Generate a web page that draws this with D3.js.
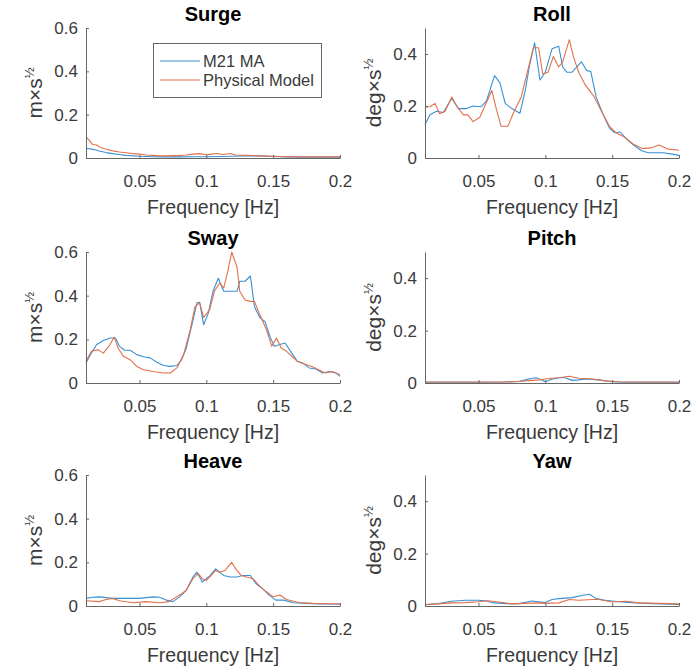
<!DOCTYPE html>
<html><head><meta charset="utf-8">
<script src="https://cdn.jsdelivr.net/npm/d3@7"></script>
<style>body{margin:0;background:#fff}svg{display:block}</style>
</head><body><svg id="c" width="697" height="667"></svg>
<script>
// ---------- data ----------
const xTicks = [0.05, 0.1, 0.15, 0.2];
const yTicksLin = [0, 0.2, 0.4, 0.6];
const yTicksAng = [0, 0.2, 0.4];
const titles = ["Surge", "Roll", "Sway", "Pitch", "Heave", "Yaw"];
const seriesNames = ["M21 MA", "Physical Model"];
const xLabel = "Frequency [Hz]";
const unitLin = "m×s";
const unitAng = "deg×s";

const surgeMA = [[0.01,0.045],[0.015,0.04],[0.02,0.032],[0.025,0.025],[0.03,0.02],[0.035,0.016],[0.04,0.012],[0.05,0.008],[0.06,0.006],[0.07,0.005],[0.08,0.005],[0.09,0.006],[0.1,0.006],[0.11,0.007],[0.12,0.008],[0.13,0.01],[0.14,0.01],[0.15,0.007],[0.16,0.005],[0.17,0.004],[0.18,0.004],[0.19,0.004],[0.2,0.004]];
const surgePhys = [[0.01,0.097],[0.012,0.085],[0.015,0.062],[0.018,0.06],[0.021,0.048],[0.025,0.04],[0.03,0.033],[0.035,0.028],[0.04,0.024],[0.045,0.02],[0.05,0.018],[0.055,0.014],[0.06,0.012],[0.065,0.01],[0.07,0.01],[0.075,0.011],[0.08,0.012],[0.085,0.014],[0.09,0.018],[0.095,0.02],[0.1,0.015],[0.104,0.018],[0.108,0.021],[0.112,0.016],[0.118,0.021],[0.122,0.014],[0.13,0.012],[0.14,0.01],[0.15,0.008],[0.16,0.006],[0.17,0.005],[0.18,0.005],[0.19,0.005],[0.2,0.005]];

const rollMA = [[0.01,0.128],[0.0137,0.166],[0.0187,0.18],[0.0237,0.175],[0.03,0.23],[0.035,0.19],[0.041,0.19],[0.046,0.2],[0.052,0.197],[0.056,0.22],[0.062,0.317],[0.066,0.29],[0.07,0.21],[0.075,0.19],[0.081,0.172],[0.085,0.26],[0.088,0.35],[0.092,0.443],[0.096,0.30],[0.1,0.33],[0.105,0.42],[0.11,0.43],[0.113,0.35],[0.116,0.33],[0.12,0.33],[0.127,0.37],[0.131,0.336],[0.134,0.333],[0.138,0.235],[0.143,0.17],[0.148,0.115],[0.152,0.097],[0.156,0.1],[0.161,0.072],[0.166,0.05],[0.172,0.028],[0.177,0.02],[0.18,0.02],[0.188,0.02],[0.195,0.015],[0.2,0.01]];
const rollPhys = [[0.01,0.195],[0.0137,0.197],[0.0175,0.21],[0.021,0.17],[0.025,0.18],[0.03,0.235],[0.0337,0.2],[0.0387,0.166],[0.042,0.166],[0.046,0.14],[0.051,0.157],[0.06,0.26],[0.0635,0.185],[0.067,0.122],[0.072,0.122],[0.076,0.172],[0.082,0.235],[0.087,0.34],[0.091,0.424],[0.095,0.424],[0.098,0.323],[0.102,0.33],[0.106,0.39],[0.11,0.35],[0.113,0.37],[0.118,0.455],[0.121,0.39],[0.125,0.33],[0.13,0.28],[0.136,0.24],[0.143,0.17],[0.148,0.122],[0.153,0.097],[0.158,0.084],[0.166,0.053],[0.173,0.036],[0.18,0.04],[0.185,0.05],[0.192,0.034],[0.2,0.03]];

const swayMA = [[0.01,0.092],[0.014,0.137],[0.018,0.176],[0.023,0.195],[0.028,0.206],[0.032,0.206],[0.035,0.168],[0.039,0.15],[0.043,0.15],[0.048,0.13],[0.053,0.12],[0.058,0.115],[0.063,0.095],[0.068,0.08],[0.073,0.076],[0.078,0.08],[0.0816,0.107],[0.085,0.16],[0.089,0.26],[0.093,0.367],[0.095,0.37],[0.098,0.267],[0.1015,0.32],[0.105,0.42],[0.109,0.48],[0.113,0.42],[0.118,0.42],[0.123,0.42],[0.125,0.466],[0.129,0.466],[0.133,0.49],[0.136,0.35],[0.14,0.3],[0.144,0.28],[0.148,0.206],[0.151,0.168],[0.155,0.176],[0.159,0.183],[0.163,0.145],[0.168,0.1],[0.172,0.092],[0.177,0.069],[0.182,0.064],[0.187,0.046],[0.192,0.053],[0.197,0.046],[0.2,0.03]];
const swayPhys = [[0.01,0.1],[0.014,0.145],[0.019,0.153],[0.023,0.137],[0.028,0.176],[0.031,0.21],[0.034,0.16],[0.038,0.122],[0.043,0.107],[0.048,0.076],[0.053,0.061],[0.06,0.053],[0.068,0.046],[0.073,0.046],[0.078,0.069],[0.083,0.13],[0.088,0.244],[0.0915,0.35],[0.095,0.367],[0.098,0.3],[0.1025,0.336],[0.106,0.42],[0.11,0.458],[0.113,0.435],[0.116,0.51],[0.119,0.6],[0.123,0.53],[0.125,0.42],[0.129,0.38],[0.133,0.374],[0.136,0.374],[0.14,0.313],[0.145,0.244],[0.149,0.168],[0.1525,0.206],[0.156,0.16],[0.16,0.145],[0.164,0.122],[0.168,0.1],[0.172,0.089],[0.179,0.076],[0.184,0.061],[0.189,0.046],[0.194,0.053],[0.197,0.046],[0.2,0.038]];

const pitchMA = [[0.01,0.003],[0.03,0.003],[0.05,0.003],[0.07,0.004],[0.08,0.006],[0.085,0.012],[0.09,0.018],[0.093,0.02],[0.097,0.012],[0.1,0.005],[0.105,0.014],[0.11,0.02],[0.115,0.02],[0.12,0.01],[0.125,0.012],[0.13,0.015],[0.14,0.012],[0.15,0.005],[0.16,0.003],[0.18,0.003],[0.2,0.003]];
const pitchPhys = [[0.01,0.004],[0.03,0.004],[0.05,0.004],[0.07,0.004],[0.08,0.006],[0.09,0.01],[0.095,0.012],[0.1,0.015],[0.105,0.018],[0.11,0.02],[0.118,0.026],[0.125,0.018],[0.135,0.015],[0.145,0.008],[0.155,0.005],[0.17,0.004],[0.2,0.004]];

const heaveMA = [[0.01,0.035],[0.015,0.04],[0.02,0.042],[0.03,0.035],[0.04,0.035],[0.05,0.035],[0.06,0.042],[0.065,0.04],[0.07,0.027],[0.075,0.02],[0.08,0.042],[0.085,0.072],[0.09,0.133],[0.093,0.155],[0.097,0.11],[0.1,0.125],[0.103,0.14],[0.107,0.17],[0.11,0.155],[0.113,0.14],[0.118,0.133],[0.123,0.133],[0.127,0.14],[0.133,0.14],[0.137,0.103],[0.142,0.08],[0.147,0.05],[0.152,0.027],[0.158,0.027],[0.165,0.015],[0.175,0.012],[0.185,0.009],[0.2,0.009]];
const heavePhys = [[0.01,0.024],[0.02,0.02],[0.025,0.03],[0.03,0.035],[0.035,0.024],[0.045,0.015],[0.055,0.02],[0.065,0.015],[0.072,0.02],[0.08,0.05],[0.085,0.072],[0.09,0.125],[0.094,0.148],[0.097,0.125],[0.1,0.118],[0.103,0.136],[0.107,0.163],[0.11,0.155],[0.114,0.163],[0.119,0.2],[0.122,0.17],[0.126,0.14],[0.13,0.133],[0.135,0.125],[0.14,0.09],[0.145,0.065],[0.15,0.042],[0.155,0.05],[0.16,0.03],[0.17,0.015],[0.18,0.012],[0.2,0.009]];

const yawMA = [[0.01,0.006],[0.02,0.009],[0.03,0.018],[0.04,0.022],[0.05,0.022],[0.055,0.02],[0.06,0.013],[0.07,0.009],[0.08,0.009],[0.09,0.019],[0.1,0.013],[0.105,0.025],[0.11,0.028],[0.12,0.032],[0.128,0.041],[0.133,0.045],[0.138,0.028],[0.145,0.022],[0.155,0.016],[0.165,0.013],[0.18,0.009],[0.2,0.006]];
const yawPhys = [[0.01,0.005],[0.02,0.008],[0.03,0.012],[0.04,0.013],[0.05,0.016],[0.057,0.02],[0.065,0.015],[0.075,0.008],[0.085,0.01],[0.095,0.012],[0.1,0.01],[0.11,0.012],[0.118,0.025],[0.125,0.022],[0.135,0.025],[0.14,0.025],[0.15,0.015],[0.16,0.018],[0.17,0.012],[0.2,0.008]];

// ---------- layout ----------
const colX = [[86, 340], [425, 679]];
const rowY = [[28, 158], [252, 383], [475, 606]];
const colors = ["#3a90d4", "#e2704a"];

const panels = [
  {title: titles[0], d: [surgeMA, surgePhys], yMax: 0.6, ticks: yTicksLin, unit: unitLin, c: 0, r: 0, legend: true},
  {title: titles[1], d: [rollMA, rollPhys], yMax: 0.5, ticks: yTicksAng, unit: unitAng, c: 1, r: 0},
  {title: titles[2], d: [swayMA, swayPhys], yMax: 0.6, ticks: yTicksLin, unit: unitLin, c: 0, r: 1},
  {title: titles[3], d: [pitchMA, pitchPhys], yMax: 0.5, ticks: yTicksAng, unit: unitAng, c: 1, r: 1},
  {title: titles[4], d: [heaveMA, heavePhys], yMax: 0.6, ticks: yTicksLin, unit: unitLin, c: 0, r: 2},
  {title: titles[5], d: [yawMA, yawPhys], yMax: 0.5, ticks: yTicksAng, unit: unitAng, c: 1, r: 2}
];

const svg = d3.select("#c");
const FONT = "'Liberation Sans', Arial, Helvetica, sans-serif";
const axisCol = "#666";
const textCol = "#3a3a3a";

panels.forEach(p => {
  const [x0, x1] = colX[p.c];
  const [yT, yB] = rowY[p.r];
  const x = d3.scaleLinear().domain([0.01, 0.2]).range([x0, x1]);
  const y = d3.scaleLinear().domain([0, p.yMax]).range([yB, yT]);
  const g = svg.append("g");

  // lines
  const line = d3.line().x(d => x(d[0])).y(d => y(d[1]));
  p.d.forEach((s, i) => {
    g.append("path").attr("d", line(s)).attr("fill", "none")
      .attr("stroke", colors[i]).attr("stroke-width", 1.1).attr("stroke-linejoin", "round");
  });

  // x axis
  const xa = g.append("g").attr("transform", `translate(0,${yB})`)
    .call(d3.axisBottom(x).tickValues(xTicks).tickFormat(d3.format("~g")).tickSizeInner(-3).tickSizeOuter(0).tickPadding(17));
  // y axis
  const ya = g.append("g").attr("transform", `translate(${x0},0)`)
    .call(d3.axisLeft(y).tickValues(p.ticks).tickFormat(d3.format("~g")).tickSizeInner(-3).tickSizeOuter(0).tickPadding(8));
  [xa, ya].forEach(a => {
    a.select(".domain").attr("stroke", axisCol).attr("stroke-width", 1);
    a.selectAll(".tick line").attr("stroke", axisCol);
    a.selectAll("text").attr("fill", textCol).style("font-family", FONT).style("font-size", "17px");
  });
  xa.selectAll("text").attr("dy", "0.72em");

  // x label
  g.append("text").attr("x", (x0 + x1) / 2).attr("y", yB + 56)
    .attr("text-anchor", "middle").attr("fill", textCol)
    .style("font-family", FONT).style("font-size", "19.5px").text(xLabel);

  // y label
  const yl = g.append("text")
    .attr("transform", `translate(${x0 - 44},${(yT + yB) / 2}) rotate(-90)`)
    .attr("text-anchor", "middle").attr("fill", textCol)
    .style("font-family", FONT).style("font-size", "21px");
  yl.append("tspan").text(p.unit);
  yl.append("tspan").attr("dy", "-0.6em").style("font-size", "13px").text("½");

  // title
  g.append("text").attr("x", (x0 + x1) / 2).attr("y", yT - 7)
    .attr("text-anchor", "middle").attr("fill", "#000")
    .style("font-family", FONT).style("font-size", "20px").style("font-weight", "bold").text(p.title);

  // legend
  if (p.legend) {
    const lg = g.append("g");
    lg.append("rect").attr("x", 153.5).attr("y", 43.5).attr("width", 168).attr("height", 54)
      .attr("fill", "#fff").attr("stroke", "#666").attr("stroke-width", 1);
    seriesNames.forEach((n, i) => {
      const ly = 61 + i * 19;
      lg.append("line").attr("x1", 160).attr("x2", 200).attr("y1", ly).attr("y2", ly)
        .attr("stroke", colors[i]).attr("stroke-width", 1.1);
      lg.append("text").attr("x", 203).attr("y", ly).attr("dy", "0.35em")
        .attr("fill", textCol).style("font-family", FONT).style("font-size", "16.5px").text(n);
    });
  }
});
</script></body></html>
